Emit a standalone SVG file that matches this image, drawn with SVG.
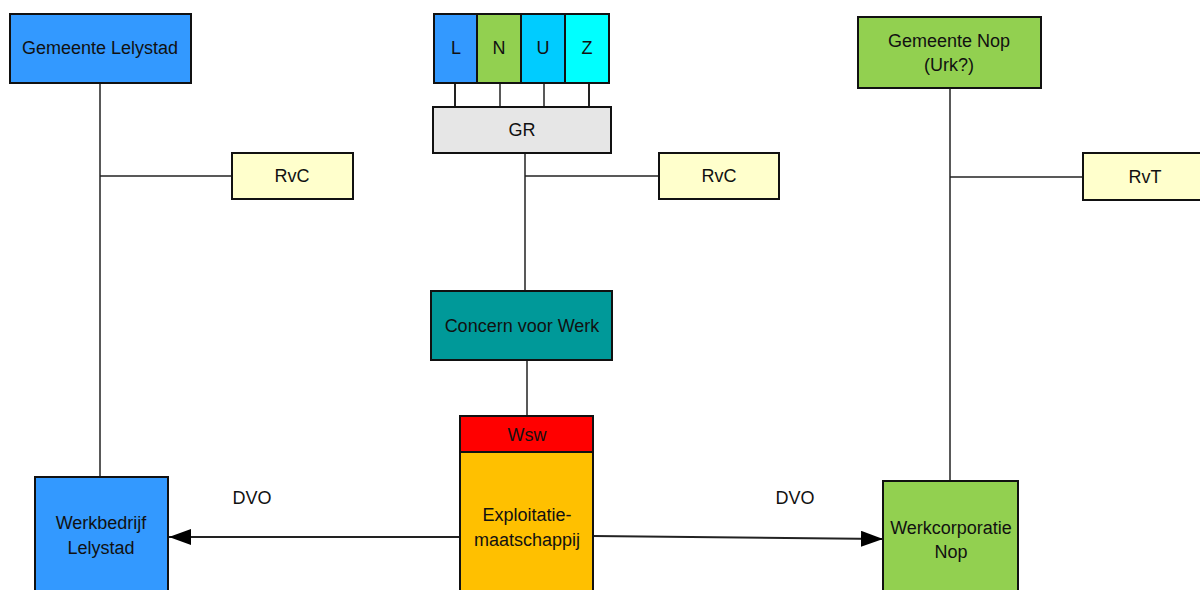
<svg xmlns="http://www.w3.org/2000/svg" width="1200" height="590" viewBox="0 0 1200 590">
<style>
.box{stroke:#111;stroke-width:2}
.t{font-family:"Liberation Sans",Arial,sans-serif;font-size:18px;fill:#111;text-anchor:middle;dominant-baseline:central}
.ln{stroke:#222;stroke-width:1.5;fill:none}
</style>
<defs>
<marker id="ah" markerWidth="22" markerHeight="16" refX="22" refY="8" orient="auto" markerUnits="userSpaceOnUse">
<path d="M0,0 L22,8 L0,16 Z" fill="#000"/>
</marker>
</defs>
<rect width="1200" height="590" fill="#fff"/>
<g id="connectors">
<line class="ln" x1="100" y1="83" x2="100" y2="477"/>
<line class="ln" x1="100" y1="176" x2="232" y2="176"/>
<line class="ln" x1="950" y1="88" x2="950" y2="481"/>
<line class="ln" x1="950" y1="177" x2="1083" y2="177"/>
<line class="ln" x1="455" y1="83" x2="455" y2="107" style="stroke-width:2"/>
<line class="ln" x1="500" y1="83" x2="500" y2="107"/>
<line class="ln" x1="544" y1="83" x2="544" y2="107"/>
<line class="ln" x1="589" y1="83" x2="589" y2="107" style="stroke-width:2"/>
<line class="ln" x1="525" y1="153" x2="525" y2="291"/>
<line class="ln" x1="525" y1="176" x2="659" y2="176"/>
<line class="ln" x1="527" y1="360" x2="527" y2="416"/>
<line class="ln" x1="460" y1="537" x2="169" y2="537" style="stroke-width:2" marker-end="url(#ah)"/>
<line class="ln" x1="593" y1="536" x2="883" y2="539" style="stroke-width:2" marker-end="url(#ah)"/>
<text class="t" x="252" y="498">DVO</text>
<text class="t" x="795" y="498">DVO</text>
</g>
<g id="gemeente-lelystad">
<rect class="box" x="10" y="14" width="181" height="69" fill="#3399ff"/>
<text class="t" x="100" y="48">Gemeente Lelystad</text>
</g>
<g id="rvc-left">
<rect class="box" x="232" y="153" width="121" height="46" fill="#ffffcc"/>
<text class="t" x="292" y="176">RvC</text>
</g>
<g id="lnuz">
<rect class="box" x="434" y="14" width="43" height="69" fill="#3399ff"/>
<text class="t" x="456" y="48">L</text>
<rect class="box" x="477" y="14" width="44" height="69" fill="#92d050"/>
<text class="t" x="499" y="48">N</text>
<rect class="box" x="521" y="14" width="44" height="69" fill="#00ccff"/>
<text class="t" x="543" y="48">U</text>
<rect class="box" x="565" y="14" width="44" height="69" fill="#00ffff"/>
<text class="t" x="587" y="48">Z</text>
</g>
<g id="gr">
<rect class="box" x="433" y="107" width="178" height="46" fill="#e6e6e6"/>
<text class="t" x="522" y="130">GR</text>
</g>
<g id="rvc-center">
<rect class="box" x="659" y="153" width="120" height="46" fill="#ffffcc"/>
<text class="t" x="719" y="176">RvC</text>
</g>
<g id="gemeente-nop">
<rect class="box" x="858" y="17" width="183" height="71" fill="#92d050"/>
<text class="t" x="949" y="41">Gemeente Nop</text>
<text class="t" x="949" y="65">(Urk?)</text>
</g>
<g id="rvt">
<rect class="box" x="1083" y="153" width="125" height="47" fill="#ffffcc"/>
<text class="t" x="1145" y="177">RvT</text>
</g>
<g id="concern">
<rect class="box" x="431" y="291" width="181" height="69" fill="#009999"/>
<text class="t" x="522" y="326">Concern voor Werk</text>
</g>
<g id="exploitatie">
<rect class="box" x="460" y="452" width="133" height="150" fill="#ffc000"/>
<text class="t" x="527" y="515">Exploitatie-</text>
<text class="t" x="527" y="540">maatschappij</text>
</g>
<g id="wsw">
<rect class="box" x="460" y="416" width="133" height="36" fill="#ff0000"/>
<text class="t" x="527" y="435">Wsw</text>
</g>
<g id="werkbedrijf">
<rect class="box" x="35" y="477" width="133" height="130" fill="#3399ff"/>
<text class="t" x="101" y="523">Werkbedrijf</text>
<text class="t" x="101" y="548">Lelystad</text>
</g>
<g id="werkcorporatie">
<rect class="box" x="883" y="481" width="135" height="130" fill="#92d050"/>
<text class="t" x="951" y="528">Werkcorporatie</text>
<text class="t" x="951" y="552">Nop</text>
</g>
</svg>
